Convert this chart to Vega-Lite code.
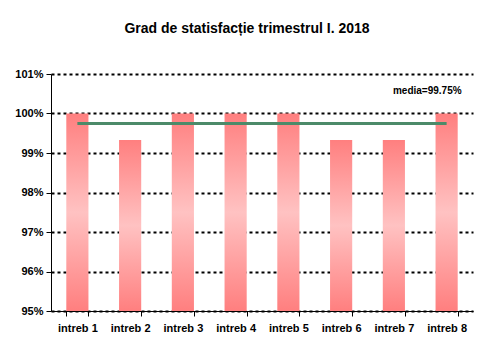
{
  "$schema": "https://vega.github.io/schema/vega-lite/v6.json",
  "width": 422,
  "height": 237,
  "padding": {"left": 14, "top": 22, "right": 10, "bottom": 5},
  "background": "white",
  "title": {
    "text": "Grad de statisfacție trimestrul I. 2018",
    "font": "Liberation Sans",
    "fontSize": 14,
    "fontWeight": "bold",
    "color": "black",
    "anchor": "middle",
    "dx": -15,
    "offset": 32
  },
  "config": {
    "view": {"stroke": null},
    "font": "Liberation Sans"
  },
  "data": {
    "values": [
      {"q": "intreb 1", "v": 1.0, "media": 0.9975},
      {"q": "intreb 2", "v": 0.9933, "media": 0.9975},
      {"q": "intreb 3", "v": 1.0, "media": 0.9975},
      {"q": "intreb 4", "v": 1.0, "media": 0.9975},
      {"q": "intreb 5", "v": 1.0, "media": 0.9975},
      {"q": "intreb 6", "v": 0.9933, "media": 0.9975},
      {"q": "intreb 7", "v": 0.9933, "media": 0.9975},
      {"q": "intreb 8", "v": 1.0, "media": 0.9975}
    ]
  },
  "encoding": {
    "x": {
      "field": "q",
      "type": "nominal",
      "sort": null,
      "scale": {"paddingInner": 0.58, "paddingOuter": 0.29},
      "axis": {
        "title": null,
        "labelAngle": 0,
        "labelFont": "Liberation Sans",
        "labelFontSize": 11,
        "labelFontWeight": "bold",
        "labelColor": "black",
        "labelPadding": 6,
        "tickSize": 5,
        "tickColor": "black",
        "tickBand": "extent",
        "domainColor": "black",
        "grid": false
      }
    }
  },
  "layer": [
    {
      "mark": {
        "type": "bar",
        "color": {
          "gradient": "linear",
          "x1": 0, "y1": 0, "x2": 0, "y2": 1,
          "stops": [
            {"offset": 0, "color": "#FF7F7F"},
            {"offset": 0.5, "color": "#FFC2C2"},
            {"offset": 1, "color": "#FF7F7F"}
          ]
        }
      },
      "encoding": {
        "y": {
          "field": "v",
          "type": "quantitative",
          "scale": {"domain": [0.95, 1.01], "nice": false, "zero": false},
          "axis": {
            "title": null,
            "values": [0.95, 0.96, 0.97, 0.98, 0.99, 1.0, 1.01],
            "tickCount": 20,
            "format": ".0%",
            "labelOverlap": false,
            "labelFont": "Liberation Sans",
            "labelFontSize": 11,
            "labelFontWeight": "bold",
            "labelColor": "black",
            "labelPadding": 3,
            "tickSize": 5,
            "tickColor": "black",
            "domainColor": "black",
            "grid": true,
            "gridColor": "black",
            "gridWidth": 2,
            "gridDash": [3, 3],
            "gridOpacity": 1,
            "zindex": 0
          }
        },
        "y2": {"datum": 0.95}
      }
    },
    {
      "mark": {"type": "line", "color": "#4C8A69", "strokeWidth": 3},
      "encoding": {
        "y": {"field": "media", "type": "quantitative"}
      }
    },
    {
      "data": {"values": [{"q": "intreb 8", "label": "media=99.75%"}]},
      "mark": {
        "type": "text",
        "align": "right",
        "baseline": "middle",
        "dx": 15,
        "font": "Liberation Sans",
        "fontSize": 10,
        "fontWeight": "bold",
        "color": "black"
      },
      "encoding": {
        "y": {"datum": 1.0057},
        "text": {"field": "label"}
      }
    }
  ]
}
